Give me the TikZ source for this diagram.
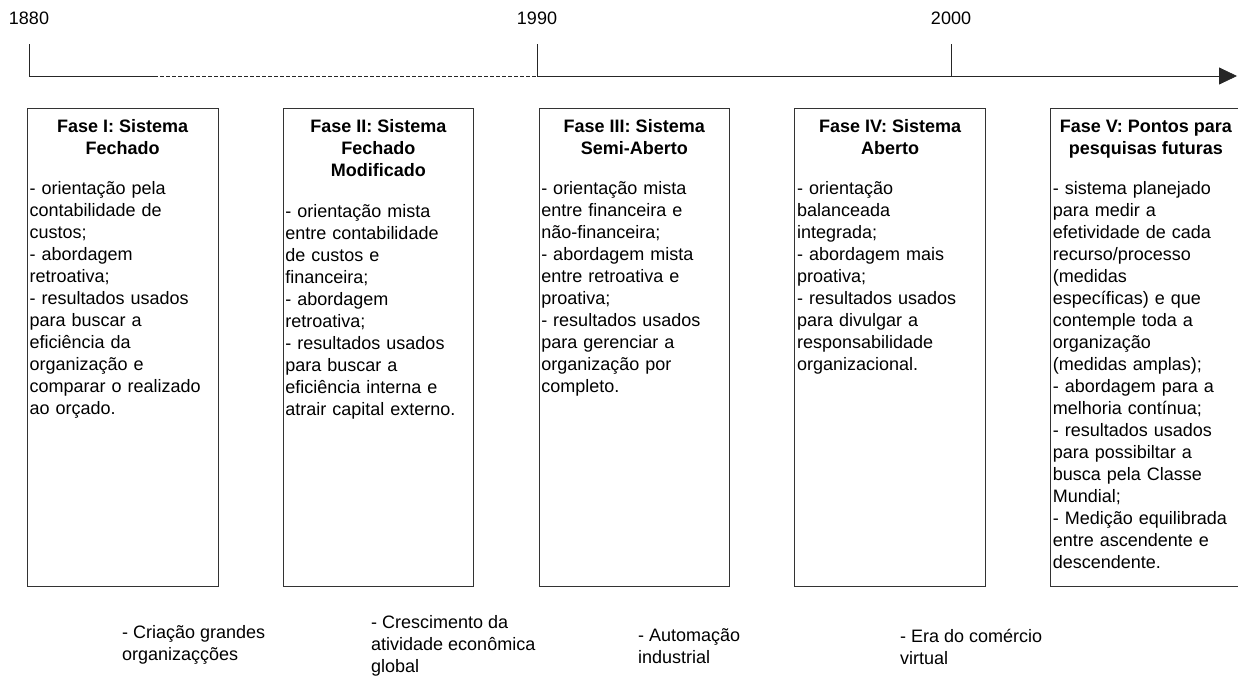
\documentclass[tikz,border=0pt]{standalone}
\usepackage{fontspec}
\setmainfont{Liberation Sans}
\usetikzlibrary{positioning,arrows.meta}
\newcommand{\fasefont}{\fontsize{18}{22}\selectfont}
\tikzset{
  fase/.style={draw=black!80, line width=0.8pt, minimum width=190.5pt, minimum height=478pt, inner sep=0pt},
  fasetitle/.style={font=\fasefont\bfseries, align=center, inner sep=0pt},
  fasebody/.style={font=\fasefont, align=left, text width=186pt, inner sep=0pt},
  fato/.style={font=\fasefont, align=left, inner sep=0pt, anchor=north west},
  ano/.style={font=\fasefont, inner sep=0pt},
  eixo/.style={line width=0.8pt, black!85}
}

\begin{document}
\begin{tikzpicture}[x=1pt,y=-1pt]
\useasboundingbox (0,0) rectangle (1238,680);
% linha do tempo
\coordinate (y1880) at (29,76);
\coordinate (quebra) at (154,76);
\coordinate (y1990) at (537,76);
\coordinate (y2000) at (951,76);
\coordinate (fim) at (1237,76);
\coordinate (k1880) at (29,44);
\coordinate (k1990) at (537,44);
\coordinate (k2000) at (951,44);
\draw[eixo] (y1880)--(quebra);
\draw[eixo, dash pattern=on 4pt off 2pt] (quebra)--(y1990);
\draw[eixo, -{Triangle[length=18pt,width=17pt]}] (y1990)--(fim);
\draw[eixo] (k1880)--(y1880);
\draw[eixo] (k1990)--(y1990);
\draw[eixo] (k2000)--(y2000);
\node[ano, above=19.4pt of k1880] (a1880) {1880};
\node[ano, above=19.4pt of k1990] (a1990) {1990};
\node[ano, above=19.4pt of k2000] (a2000) {2000};
% fases
\node[fase, anchor=north west] (f1) at (27,108) {};
\node[fase, right=64.5pt of f1] (f2) {};
\node[fase, right=64.5pt of f2] (f3) {};
\node[fase, right=64.5pt of f3] (f4) {};
\node[fase, right=64.5pt of f4] (f5) {};
\node[fasetitle, below=11.7pt of f1.north] (t1) {Fase I: Sistema\\Fechado};
\node[fasetitle, below=11.7pt of f2.north] (t2) {Fase II: Sistema\\Fechado\\Modificado};
\node[fasetitle, below=11.7pt of f3.north] (t3) {Fase III: Sistema\\Semi-Aberto};
\node[fasetitle, below=11.7pt of f4.north] (t4) {Fase IV: Sistema\\Aberto};
\node[fasetitle, below=11.7pt of f5.north] (t5) {Fase V: Pontos para\\pesquisas futuras};
\node[fasebody, below=73.3pt of f1.north] (b1) {- orientação pela\\contabilidade de\\custos;\\- abordagem\\retroativa;\\- resultados usados\\para buscar a\\eficiência da\\organização e\\comparar o realizado\\ao orçado.};
\node[fasebody, below=96.3pt of f2.north] (b2) {- orientação mista\\entre contabilidade\\de custos e\\financeira;\\- abordagem\\retroativa;\\- resultados usados\\para buscar a\\eficiência interna e\\atrair capital externo.};
\node[fasebody, below=73.3pt of f3.north] (b3) {- orientação mista\\entre financeira e\\não-financeira;\\- abordagem mista\\entre retroativa e\\proativa;\\- resultados usados\\para gerenciar a\\organização por\\completo.};
\node[fasebody, below=73.3pt of f4.north] (b4) {- orientação\\balanceada\\integrada;\\- abordagem mais\\proativa;\\- resultados usados\\para divulgar a\\responsabilidade\\organizacional.};
\node[fasebody, below=73.3pt of f5.north] (b5) {- sistema planejado\\para medir a\\efetividade de cada\\recurso/processo\\(medidas\\específicas) e que\\contemple toda a\\organização\\(medidas amplas);\\- abordagem para a\\melhoria contínua;\\- resultados usados\\para possibiltar a\\busca pela Classe\\Mundial;\\- Medição equilibrada\\entre ascendente e\\descendente.};
% fatos
\node[fato] (c1) at (122,624.8) {- Criação grandes\\organizaçções};
\node[fato] (c2) at (371,614.8) {- Crescimento da\\atividade econômica\\global};
\node[fato] (c3) at (638,628.8) {- Automação\\industrial};
\node[fato] (c4) at (900,628.8) {- Era do comércio\\virtual};
\end{tikzpicture}
\end{document}
